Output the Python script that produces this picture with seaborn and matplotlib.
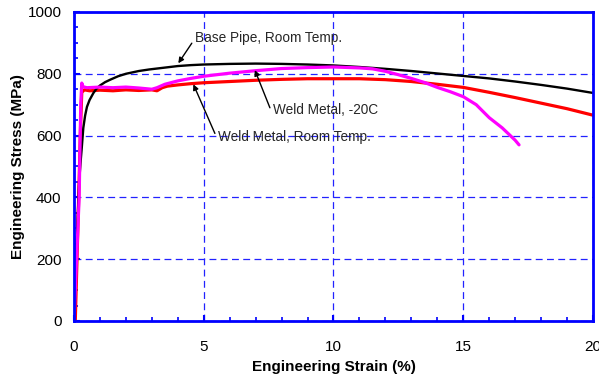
import numpy as np
import pandas as pd
import matplotlib
matplotlib.use('Agg')
import matplotlib.pyplot as plt
from matplotlib.ticker import MultipleLocator
import seaborn as sns

# Stress-strain curves
base_strain = [0.02, 0.1, 0.2, 0.25, 0.3, 0.36, 0.43, 0.5, 0.6, 0.75, 0.87, 1.0, 1.2, 1.4, 1.7,
               2.0, 2.5, 2.9, 3.5, 4.0, 4.5, 5.0, 6.0, 7.0, 8.0, 9.0, 10.0, 11.0, 12.0, 13.0,
               14.0, 15.0, 16.0, 17.0, 18.0, 19.0, 20.0]
base_stress = [0, 250, 450, 510, 560, 625, 665, 693, 715, 738, 752, 762, 773, 781, 792,
               800, 809, 814, 820, 825, 828, 830, 832, 833, 832, 830, 827, 822, 816, 809,
               801, 793, 785, 775, 764, 752, 738]

weld_rt_strain = [0.05, 0.15, 0.25, 0.3, 0.4, 0.6, 1.0, 1.5, 2.0, 2.5, 3.0, 3.2, 3.4, 3.6,
                  4.0, 4.5, 5.0, 6.0, 7.0, 8.0, 9.0, 10.0, 11.0, 12.0, 13.0, 14.0, 15.0,
                  16.0, 17.0, 18.0, 19.0, 20.0]
weld_rt_stress = [0, 300, 620, 740, 748, 745, 747, 745, 748, 746, 748, 745, 755, 760,
                  764, 768, 771, 775, 779, 782, 784, 784, 784, 781, 775, 766, 756,
                  740, 723, 705, 687, 666]

weld_cold_strain = [0.0, 0.1, 0.2, 0.26, 0.3, 0.35, 0.5, 1.0, 1.5, 2.0, 2.5, 3.0, 3.2, 3.5,
                    4.0, 4.5, 5.0, 6.0, 7.0, 8.0, 9.0, 10.0, 11.0, 11.5, 12.0, 12.5, 13.0,
                    13.5, 14.0, 14.5, 15.0, 15.5, 16.0, 16.5, 17.0, 17.15]
weld_cold_stress = [0, 200, 400, 700, 770, 758, 755, 757, 755, 757, 754, 750, 755, 766,
                    777, 785, 792, 802, 810, 817, 820, 822, 819, 816, 808, 797, 785,
                    772, 756, 742, 726, 700, 658, 625, 585, 570]

x_ticks = [0, 5, 10, 15, 20]
y_ticks = [0, 200, 400, 600, 800, 1000]

sns.set_theme(style='white')
plt.rcParams['font.family'] = ['Liberation Sans', 'DejaVu Sans']

fig = plt.figure(figsize=(5.99, 3.78), dpi=100)
ax = fig.add_axes([0.1235, 0.1508, 0.8665, 0.8175])

blue = '#0000FF'

sns.lineplot(ax=ax, x=weld_rt_strain, y=weld_rt_stress, sort=False, estimator=None,
             color='#FF0000', linewidth=2.3, zorder=3)
sns.lineplot(ax=ax, x=base_strain, y=base_stress, sort=False, estimator=None,
             color='black', linewidth=1.7, zorder=4)
sns.lineplot(ax=ax, x=weld_cold_strain, y=weld_cold_stress, sort=False, estimator=None,
             color='#FF00FF', linewidth=2.3, zorder=5)

ax.set_xlim(0, 20)
ax.set_ylim(0, 1000)
ax.set_xticks(x_ticks)
ax.set_yticks(y_ticks)
ax.xaxis.set_minor_locator(MultipleLocator(1))
ax.yaxis.set_minor_locator(MultipleLocator(50))

ax.grid(True, which='major', color='#2222FF', linewidth=0.9, linestyle=(0, (5.5, 3.5)))
ax.set_axisbelow(True)

for side in ['left', 'right', 'top', 'bottom']:
    ax.spines[side].set_visible(True)
    ax.spines[side].set_color(blue)
    ax.spines[side].set_linewidth(2.0)
    ax.spines[side].set_zorder(6)

ax.tick_params(which='both', direction='in', color=blue, labelcolor='black',
               labelsize=11, bottom=True, left=True, top=False, right=False)
ax.tick_params(which='major', length=4, width=1.5)
ax.tick_params(which='minor', length=3, width=1.2)
ax.tick_params(axis='x', which='major', pad=14)
ax.tick_params(axis='y', which='major', pad=9)

ax.set_xlabel('Engineering Strain (%)', fontsize=11, fontweight='bold', color='black')
ax.set_ylabel('Engineering Stress (MPa)', fontsize=11, fontweight='bold', color='black')
ax.xaxis.set_label_coords(0.5, -0.125)
ax.yaxis.set_label_coords(-0.094, 0.5)

# Curve annotations
arrow = dict(arrowstyle='-|>', color='black', lw=1.0, mutation_scale=8,
             shrinkA=0, shrinkB=0)
ax.text(4.66, 916, 'Base Pipe, Room Temp.', fontsize=9.8, ha='left', va='center', zorder=7)
ax.annotate('', xy=(4.02, 834), xytext=(4.54, 899), arrowprops=arrow, zorder=7)

ax.text(7.68, 683, 'Weld Metal, -20C', fontsize=9.8, ha='left', va='center', zorder=7)
ax.annotate('', xy=(6.97, 812), xytext=(7.55, 690), arrowprops=arrow, zorder=7)

ax.text(5.56, 596, 'Weld Metal, Room Temp.', fontsize=9.8, ha='left', va='center', zorder=7)
ax.annotate('', xy=(4.6, 766), xytext=(5.43, 607), arrowprops=arrow, zorder=7)

fig.savefig('out.png', dpi=100)
plt.close(fig)
